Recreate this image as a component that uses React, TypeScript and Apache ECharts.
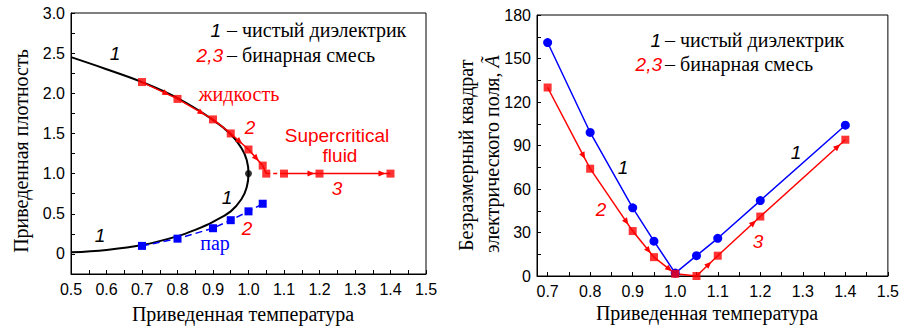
import React, { useEffect, useRef } from 'react';
import * as echarts from 'echarts';

const W = 902;
const H = 327;

// ---------- Left chart: reduced density vs reduced temperature ----------
const coexCurveT = [0.5, 0.6, 0.7, 0.8, 0.9, 0.95, 0.98, 0.995, 1.0, 0.995, 0.98, 0.95, 0.9, 0.85, 0.8, 0.7, 0.6, 0.5];
const coexCurveRho = [2.45, 2.3, 2.14, 1.94, 1.67, 1.49, 1.32, 1.17, 1.0, 0.83, 0.68, 0.53, 0.4, 0.3, 0.22, 0.11, 0.05, 0.02];
const criticalT = [1.0];
const criticalRho = [1.0];
const mixLiquidT = [0.7, 0.8, 0.9, 0.95, 1.0, 1.04, 1.05, 1.1, 1.2, 1.4];
const mixLiquidRho = [2.14, 1.93, 1.675, 1.5, 1.3, 1.1, 1.0, 1.0, 1.0, 1.0];
const mixVaporT = [0.7, 0.8, 0.9, 0.95, 1.0, 1.04];
const mixVaporRho = [0.1, 0.19, 0.32, 0.42, 0.53, 0.625];
const leftXTicks = [0.5, 0.6, 0.7, 0.8, 0.9, 1.0, 1.1, 1.2, 1.3, 1.4, 1.5];
const leftYTicks = [0, 0.5, 1.0, 1.5, 2.0, 2.5, 3.0];

// ---------- Right chart: dimensionless squared field ----------
const fieldT = [0.7, 0.8, 0.9, 0.95, 1.0, 1.05, 1.1, 1.2, 1.4];
const purePhi = [161, 99, 47, 24, 2, 14, 26, 52, 104];
const mixPhi = [130, 74, 31, 13, 1.5, 0, 14, 41, 94];
const rightXTicks = [0.7, 0.8, 0.9, 1.0, 1.1, 1.2, 1.3, 1.4, 1.5];
const rightXMinorTicks = [0.75, 0.85, 0.95, 1.05, 1.15, 1.25, 1.35, 1.45];
const rightYTicks = [0, 30, 60, 90, 120, 150, 180];

// segment styling (arrow head position along each segment, 0 = none)
const liquidArrowAt = [0.77, 0.76, 0, 0.65, 0.72, 0, 0, 0.86, 0.93];
const liquidDashed = [false, false, false, false, false, false, true, false, false];
const mixArrowAt = [0.88, 0.9, 0.85, 0.85, 0, 0.7, 0.9, 0.94];
const mixDashed = [false, false, false, false, false, false, false, false];

const RED = '#ff0000';
const BLUE = '#0000ff';
const SANS = '"Liberation Sans", Arial, sans-serif';
const SERIF = '"Liberation Serif", "Times New Roman", serif';

const zip = (a: number[], b: number[]) => a.map((v, i) => [v, b[i]]);

function arrowSeries(xs: number[], ys: number[], arrowAt: number[], dashed: boolean[], color: string, xi: number, yi: number) {
  const data = xs.slice(1).map((x, i) => [xs[i], ys[i], x, ys[i + 1]]);
  return {
    type: 'custom',
    xAxisIndex: xi,
    yAxisIndex: yi,
    data,
    z: 3,
    silent: true,
    encode: { x: [0, 2], y: [1, 3] },
    renderItem: (params: any, api: any) => {
      const i = params.dataIndex;
      const a = api.coord([api.value(0), api.value(1)]);
      const b = api.coord([api.value(2), api.value(3)]);
      const children: any[] = [
        {
          type: 'line',
          shape: { x1: a[0], y1: a[1], x2: b[0], y2: b[1] },
          style: { stroke: color, lineWidth: 1.5, lineDash: dashed[i] ? [4, 3] : null },
        },
      ];
      const f = arrowAt[i];
      if (f > 0) {
        const dx = b[0] - a[0];
        const dy = b[1] - a[1];
        const len = Math.hypot(dx, dy) || 1;
        const ux = dx / len;
        const uy = dy / len;
        const tx = a[0] + dx * f;
        const ty = a[1] + dy * f;
        const L = 7;
        const Wd = 3;
        children.push({
          type: 'polygon',
          shape: {
            points: [
              [tx, ty],
              [tx - ux * L - uy * Wd, ty - uy * L + ux * Wd],
              [tx - ux * L + uy * Wd, ty - uy * L - ux * Wd],
            ],
          },
          style: { fill: color },
        });
      }
      return { type: 'group', children };
    },
  };
}

type FontSpec = { family: string; size: number; italic?: boolean };
const serif20: FontSpec = { family: SERIF, size: 20 };
const sansIt: FontSpec = { family: SANS, size: 19, italic: true };
const sans19: FontSpec = { family: SANS, size: 19 };

const txt = (x: number, y: number, text: string, f: FontSpec, fill: string, align = 'center', extra: any = {}) => ({
  type: 'text',
  x,
  y,
  silent: true,
  z: 10,
  ...extra,
  style: {
    text,
    fontFamily: f.family,
    fontSize: f.size,
    fontStyle: f.italic ? 'italic' : 'normal',
    fill,
    textAlign: align,
    align,
    textVerticalAlign: 'middle',
    verticalAlign: 'middle',
  },
});

const axisCommon = {
  axisLine: { show: true, onZero: false, lineStyle: { color: '#000', width: 1 } },
  axisTick: { show: true, inside: true, length: 4, lineStyle: { color: '#000' } },
  splitLine: { show: false },
  axisLabel: { color: '#000', fontFamily: SANS, fontSize: 16, margin: 7 },
};

export default function App() {
  const ref = useRef<HTMLDivElement>(null);
  useEffect(() => {
    if (!ref.current) return;
    const chart = echarts.init(ref.current, null, { renderer: 'svg' });
    const option: any = {
      animation: false,
      backgroundColor: '#fff',
      grid: [
        { left: 71, top: 13, width: 355, height: 261, show: true, borderColor: '#000', borderWidth: 1, backgroundColor: 'transparent' },
        { left: 537, top: 15, width: 354, height: 261, show: true, borderColor: '#000', borderWidth: 1, backgroundColor: 'transparent' },
      ],
      xAxis: [
        {
          ...axisCommon,
          type: 'value',
          gridIndex: 0,
          min: 0.5,
          max: 1.5,
          interval: 0.05,
          axisLabel: {
            ...axisCommon.axisLabel,
            customValues: leftXTicks,
            formatter: (v: number) => v.toFixed(1),
          },
        },
        {
          ...axisCommon,
          type: 'value',
          gridIndex: 1,
          min: 0.675,
          max: 1.5,
          axisTick: { ...axisCommon.axisTick, customValues: [...rightXTicks, ...rightXMinorTicks] },
          axisLabel: {
            ...axisCommon.axisLabel,
            customValues: rightXTicks,
            formatter: (v: number) => v.toFixed(1),
          },
        },
      ],
      yAxis: [
        {
          ...axisCommon,
          type: 'value',
          gridIndex: 0,
          min: -0.25,
          max: 3,
          interval: 0.25,
          axisLabel: {
            ...axisCommon.axisLabel,
            margin: 6,
            customValues: leftYTicks,
            formatter: (v: number) => (Math.abs(v) < 1e-9 ? '0' : v.toFixed(1)),
          },
        },
        {
          ...axisCommon,
          type: 'value',
          gridIndex: 1,
          min: 0,
          max: 180,
          interval: 15,
          axisLabel: {
            ...axisCommon.axisLabel,
            margin: 6,
            customValues: rightYTicks,
            formatter: (v: number) => String(Math.round(v)),
          },
        },
      ],
      series: [
        {
          type: 'line',
          xAxisIndex: 0,
          yAxisIndex: 0,
          data: zip(coexCurveT, coexCurveRho),
          smooth: 0.4,
          showSymbol: false,
          symbol: 'none',
          lineStyle: { color: '#000', width: 2 },
          z: 2,
          silent: true,
        },
        {
          type: 'scatter',
          xAxisIndex: 0,
          yAxisIndex: 0,
          data: zip(criticalT, criticalRho),
          symbol: 'circle',
          symbolSize: 7,
          itemStyle: { color: '#000' },
          z: 3,
          silent: true,
        },
        arrowSeries(mixLiquidT, mixLiquidRho, liquidArrowAt, liquidDashed, RED, 0, 0),
        {
          type: 'scatter',
          xAxisIndex: 0,
          yAxisIndex: 0,
          data: zip(mixLiquidT, mixLiquidRho),
          symbol: 'rect',
          symbolSize: 8,
          itemStyle: { color: RED },
          z: 4,
          silent: true,
        },
        {
          type: 'line',
          xAxisIndex: 0,
          yAxisIndex: 0,
          data: zip(mixVaporT, mixVaporRho),
          symbol: 'rect',
          symbolSize: 8,
          showAllSymbol: true,
          itemStyle: { color: BLUE },
          lineStyle: { color: BLUE, width: 1.5, type: [7, 4] },
          z: 4,
          silent: true,
        },
        {
          type: 'line',
          xAxisIndex: 1,
          yAxisIndex: 1,
          data: zip(fieldT, purePhi),
          symbol: 'circle',
          symbolSize: 9,
          showAllSymbol: true,
          itemStyle: { color: BLUE },
          lineStyle: { color: BLUE, width: 1.5 },
          z: 3,
          silent: true,
        },
        arrowSeries(fieldT, mixPhi, mixArrowAt, mixDashed, RED, 1, 1),
        {
          type: 'scatter',
          xAxisIndex: 1,
          yAxisIndex: 1,
          data: zip(fieldT, mixPhi),
          symbol: 'rect',
          symbolSize: 8,
          itemStyle: { color: RED },
          z: 4,
          silent: true,
        },
      ],
      graphic: [
        // axis names
        txt(243, 314, 'Приведенная температура', serif20, '#000'),
        txt(707, 313, 'Приведенная температура', serif20, '#000'),
        txt(21, 151, 'Приведенная плотность', serif20, '#000', 'center', { rotation: Math.PI / 2 }),
        txt(466, 251, 'Безразмерный квадрат', serif20, '#000', 'left', { rotation: Math.PI / 2 }),
        {
          type: 'text',
          x: 492,
          y: 253,
          rotation: Math.PI / 2,
          silent: true,
          z: 10,
          style: {
            text: '{a|электрического поля, }{b|Ã}',
            textAlign: 'left',
            align: 'left',
            textVerticalAlign: 'middle',
            verticalAlign: 'middle',
            fontFamily: SERIF,
            fontSize: 20,
            rich: {
              a: { fontFamily: SERIF, fontSize: 20, fill: '#000' },
              b: { fontFamily: SERIF, fontSize: 20, fontStyle: 'italic', fill: '#000' },
            },
          },
        },
        // left legend
        txt(221, 30, '1', sansIt, '#000', 'right'),
        txt(227, 30, '– чистый диэлектрик', serif20, '#000', 'left'),
        txt(223, 55, '2,3', sansIt, RED, 'right'),
        txt(227, 55, '– бинарная смесь', serif20, '#000', 'left'),
        // right legend
        txt(661, 40, '1', sansIt, '#000', 'right'),
        txt(665, 40, '– чистый диэлектрик', serif20, '#000', 'left'),
        txt(662, 64, '2,3', sansIt, RED, 'right'),
        txt(665, 64, '– бинарная смесь', serif20, '#000', 'left'),
        // left annotations
        txt(115, 53, '1', sansIt, '#000'),
        txt(239, 93.5, 'жидкость', serif20, RED),
        txt(250, 127, '2', sansIt, RED),
        txt(337, 135, 'Supercritical', sans19, RED),
        txt(340, 155, 'fluid', sans19, RED),
        txt(337, 188, '3', sansIt, RED),
        txt(227, 197, '1', sansIt, '#000'),
        txt(247, 228, '2', sansIt, RED),
        txt(215, 243, 'пар', serif20, BLUE),
        txt(100, 235, '1', sansIt, '#000'),
        // right annotations
        txt(623, 167, '1', sansIt, '#000'),
        txt(601, 209, '2', sansIt, RED),
        txt(796, 152, '1', sansIt, '#000'),
        txt(758, 241, '3', sansIt, RED),
      ],
    };
    chart.setOption(option);
    return () => chart.dispose();
  }, []);
  return <div ref={ref} style={{ position: 'absolute', left: 0, top: 0, width: W, height: H }} />;
}
